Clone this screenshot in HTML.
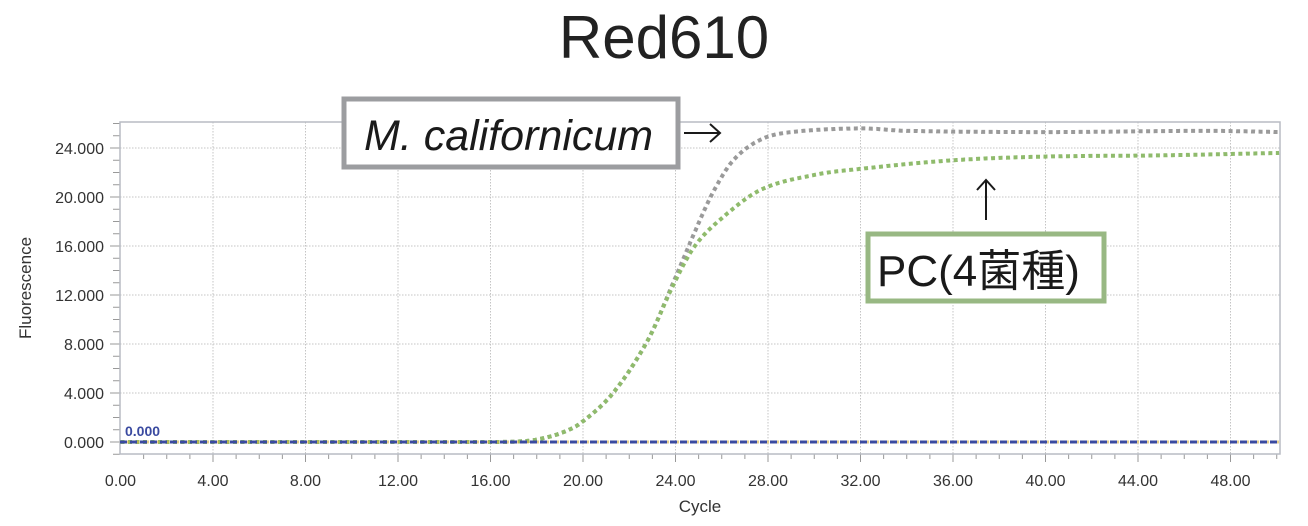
<!DOCTYPE html>
<html><head><meta charset="utf-8"><style>
html,body{margin:0;padding:0;background:#fff;}
body{width:1308px;height:526px;overflow:hidden;position:relative;font-family:"Liberation Sans","Noto Sans CJK JP",sans-serif;}
</style></head><body>
<svg id="s" width="1308" height="526" xmlns="http://www.w3.org/2000/svg" style="position:absolute;left:0;top:0">
<text x="664" y="58" font-size="60" text-anchor="middle" fill="#222" font-family="Liberation Sans, sans-serif">Red610</text>
<g id="grid"></g>
<rect x="120" y="122" width="1160" height="332" fill="none" stroke="#b8bcc4" stroke-width="1.5"/>
<path id="gray" fill="none" stroke="#9a9a9a" stroke-width="4" stroke-dasharray="4 3.5"/>
<path id="green" fill="none" stroke="#8fbb6c" stroke-width="4" stroke-dasharray="4 3.5"/>
<line x1="120" y1="442" x2="1280" y2="442" stroke="#3a4aa0" stroke-width="3" stroke-dasharray="7 3"/>
<line x1="127" y1="442" x2="1280" y2="442" stroke="#d8b040" stroke-width="3" stroke-dasharray="2 8" opacity="0.6"/>
<text x="125" y="436" font-size="14" fill="#3a4aa0" font-weight="bold">0.000</text>
<g id="labels" font-size="16" fill="#333" font-family="Liberation Sans, sans-serif"></g>
<text x="700" y="512" font-size="17" fill="#333" text-anchor="middle">Cycle</text>
<text transform="translate(31,288) rotate(-90)" font-size="17" fill="#333" text-anchor="middle">Fluorescence</text>
<rect x="344" y="99" width="334" height="68" fill="#fff" stroke="#9c9da0" stroke-width="5"/>
<text x="364" y="150" font-size="43" font-style="italic" fill="#1a1a1a">M. californicum</text>
<g stroke="#1a1a1a" stroke-width="2" fill="none">
<path d="M684,133 L720,133 M710,124 L720,133 L710,142"/>
<path d="M986,220 L986,180 M977,190 L986,180 L995,190"/>
</g>
<rect x="868" y="234" width="236" height="67" fill="#fff" stroke="#98b883" stroke-width="5"/>
<text x="877" y="286" font-size="44" fill="#1a1a1a" font-family="Liberation Sans, Noto Sans CJK JP, sans-serif">PC(4菌種)</text>
</svg>
<script>
var X=function(c){return 120.5+c*23.125;},Y=function(v){return 442-v*12.25;};
var g=document.getElementById('grid'),L=document.getElementById('labels'),ns='http://www.w3.org/2000/svg';
function el(p,t,a){var e=document.createElementNS(ns,t);for(var k in a)e.setAttribute(k,a[k]);p.appendChild(e);return e;}
for(var c=4;c<=48;c+=4)el(g,'line',{x1:X(c),x2:X(c),y1:122,y2:454,stroke:'#c4c4c4','stroke-dasharray':'1.5 1.5'});
for(var v=4;v<=24;v+=4)el(g,'line',{x1:120,x2:1280,y1:Y(v),y2:Y(v),stroke:'#c4c4c4','stroke-dasharray':'1.5 1.5'});
for(var c=1;c<=50;c++)el(g,'line',{x1:X(c),x2:X(c),y1:454,y2:c%4==0?462:459,stroke:'#999'});
for(var v=-1;v<=26;v++)el(g,'line',{x1:v%4==0?110:113,x2:120,y1:Y(v),y2:Y(v),stroke:'#999'});
for(var c=0;c<=48;c+=4){var t=el(L,'text',{x:X(c),y:486,'text-anchor':'middle'});t.textContent=c.toFixed(2);}
for(var v=0;v<=24;v+=4){var t=el(L,'text',{x:104,y:Y(v)+6,'text-anchor':'end'});t.textContent=v.toFixed(3);}
function path(pts){var d='';for(var x=0;x<=50.1;x+=0.05){var i=0;while(i<pts.length-2&&pts[i+1][0]<x)i++;
var p0=pts[Math.max(i-1,0)],p1=pts[i],p2=pts[i+1],p3=pts[Math.min(i+2,pts.length-1)];var t=(x-p1[0])/(p2[0]-p1[0]);
var m1=(p2[1]-p0[1])/(p2[0]-p0[0])*(p2[0]-p1[0]),m2=(p3[1]-p1[1])/(p3[0]-p1[0])*(p2[0]-p1[0]);
var t2=t*t,t3=t2*t;var y=(2*t3-3*t2+1)*p1[1]+(t3-2*t2+t)*m1+(-2*t3+3*t2)*p2[1]+(t3-t2)*m2;
d+=(d?'L':'M')+X(x).toFixed(1)+','+Y(Math.max(y,0)).toFixed(1);}return d;}
var base=[[0,0],[16,0],[17.3,0.05],[18,0.2],[19,0.7],[19.9,1.55],[21.3,4.0],[22.8,8.3],[23.9,13.0]];
var gray=base.concat([[24.8,17],[25.6,20.3],[26.5,23],[27.7,24.7],[29,25.3],[32,25.6],[34,25.4],[40,25.3],[47,25.4],[50.2,25.3]]);
var green=base.slice(0,8).concat([[23.9,12.8],[24.8,15.9],[25.9,18.1],[27.7,20.6],[30,21.8],[32,22.3],[36,23],[40,23.3],[45,23.4],[50.2,23.6]]);
document.getElementById('gray').setAttribute('d',path(gray));
document.getElementById('green').setAttribute('d',path(green));
</script>
</body></html>
